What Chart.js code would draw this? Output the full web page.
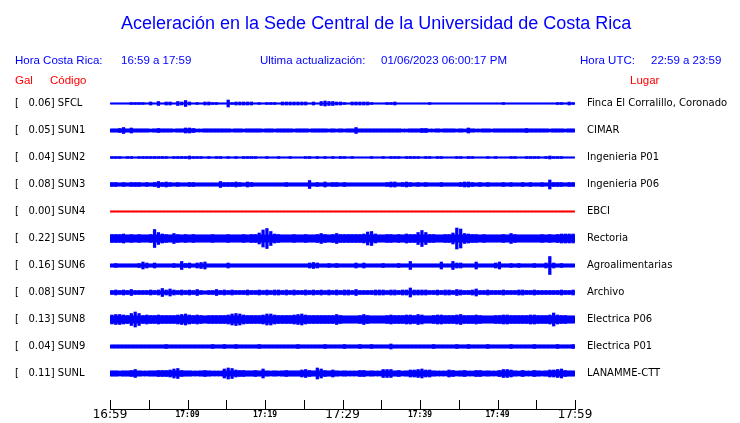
<!DOCTYPE html>
<html>
<head>
<meta charset="utf-8">
<script src="https://cdn.jsdelivr.net/npm/chart.js@4"></script>
<style>
  body { margin: 0; background: #fff; }
  #wrap { position: relative; width: 740px; height: 423px; }
  .t { position: absolute; white-space: pre; font-family: "Liberation Sans", Arial, sans-serif; font-size: 11.5px; line-height: 1; color: #0000ff; }
  .r { color: #ff0000; }
  #title { font-size: 18px; left: 121px; top: 14px; }
</style>
</head>
<body>
<div id="wrap">
  <canvas id="sismo" width="740" height="423"></canvas>
  <div class="t" id="title">Aceleración en la Sede Central de la Universidad de Costa Rica</div>
  <div class="t" style="left:15px;top:55px">Hora Costa Rica:</div>
  <div class="t" style="left:121px;top:55px">16:59 a 17:59</div>
  <div class="t" style="left:260px;top:55px">Ultima actualización:</div>
  <div class="t" style="left:381px;top:55px">01/06/2023 06:00:17 PM</div>
  <div class="t" style="left:580px;top:55px">Hora UTC:</div>
  <div class="t" style="left:651px;top:55px">22:59 a 23:59</div>
  <div class="t r" style="left:15px;top:75px">Gal</div>
  <div class="t r" style="left:50px;top:75px">Código</div>
  <div class="t r" style="left:630px;top:75px">Lugar</div>
</div>
<script>
const codes = ['SFCL', 'SUN1', 'SUN2', 'SUN3', 'SUN4', 'SUN5', 'SUN6', 'SUN7', 'SUN8', 'SUN9', 'SUNL'];
const peakGal = [0.06, 0.05, 0.04, 0.08, 0.00, 0.22, 0.16, 0.08, 0.13, 0.04, 0.11];
const places = ['Finca El Corralillo, Coronado', 'CIMAR', 'Ingenieria P01', 'Ingenieria P06', 'EBCI',
  'Rectoria', 'Agroalimentarias', 'Archivo', 'Electrica P06', 'Electrica P01', 'LANAMME-CTT'];
const timeLabels = ['16:59', '17:09', '17:19', '17:29', '17:39', '17:49', '17:59'];

// quiet background band of each trace (px)
const bandPx = [1, 3, 1, 3, 1, 7, 3, 3, 7, 3, 5];

// trace envelopes: band height (px, base 36) for every 30 s window of the hour
const sfcl = '1111122221 3141331436 3121332211 7233333121 2221333333 3131454433 2133333211 1223111111 1121111111 1111111111 1211111111 1111122132';
const sun1 = '3346353333 2343332335 5422333333 3233233332 3323333233 3233332323 2336333333 3333322333 4422323332 3253223323 3333333433 3332333233';
const sun2 = '2221221222 2222212222 3222121221 2121222211 2112112111 2212121212 2121111211 2122212222 1221221112 2122111212 1112211222 2123222111';
const sun3 = '4434344434 3464543433 4433333364 4454354333 3333343333 3834353443 4333333333 3455345434 3433343333 4554343433 3434334343 3439444344';
const sun4 = '1111111111 1111111111 1111111111 1111111111 1111111111 1111111111 1111111111 1111111111 1111111111 1111111111 1111111111 1111111111';
const sun5 = '8889787877 8ic987a878 7877778777 87778788bh ke98777877 8778a878a8 888889de97 788787988c gc887788bl ja98878777 787a877777 7878789999';
const sun6 = '3433333475 3533334384 5356733333 5333333333 3333333333 3565334343 3335353333 4333433833 3333373385 5333733335 7334343334 335i534333';
const sun7 = '4545464444 5458575454 5464344645 4544454454 5455454544 5454545454 5546444455 5455455955 5544545546 5445744544 4544455445 4444445445';
const sun8 = '9aa98cfc89 88988889ab 9898788888 9bcb988889 bb988889ab 98888888a8 77778a8777 789888998a 9778998889 a888987778 8998888899 8889d98877';
const sun9 = '3333333333 3333433333 3333334334 3343333343 3333333343 3333343333 4333433433 3353333333 3334333334 3343333433 3334333334 3333343334';
const sunl = '5545568544 5566679a65 5445654449 ba76655659 5454565557 865b965754 5444664544 8885645778 9775444764 5644664544 6887546446 5457789655';

const traces = [sfcl, sun1, sun2, sun3, sun4, sun5, sun6, sun7, sun8, sun9, sunl];

// y axis is in pixels (chart area runs 90..409), one row every 27 px
const rowY = i => 103.5 + 27 * i;
const env = s => s.replace(/ /g, '').split('').map(c => parseInt(c, 36));
const colorOf = r => codes[r] === 'SUN4' ? '#ff0000' : '#0000ff';

const datasets = [];
traces.forEach((s, r) => {
  const h = env(s);
  const xAt = i => (i + 0.5) * 60 / h.length;
  // continuous background band
  datasets.push({
    data: h.map((v, i) => ({ x: xAt(i), y: [rowY(r) - bandPx[r] / 2, rowY(r) + bandPx[r] / 2] })),
    backgroundColor: colorOf(r), borderWidth: 0, barThickness: 4.4, grouped: false
  });
  // bursts
  datasets.push({
    data: h.map((v, i) => ({ x: xAt(i), y: [rowY(r) - v / 2, rowY(r) + v / 2] })),
    backgroundColor: colorOf(r), borderWidth: 0, barThickness: 2.6, grouped: false
  });
});

const rowTicks = s => { s.ticks = codes.map((c, i) => ({ value: rowY(i) })); };
const rowFit = w => s => { s.width = w; s.paddingTop = 0; s.paddingBottom = 0; };

// short upward tick every 5 minutes
const tickMarks = {
  id: 'tickMarks',
  afterDraw(chart) {
    const xs = chart.scales.x, ctx = chart.ctx;
    ctx.save();
    ctx.strokeStyle = '#000';
    ctx.lineWidth = 1;
    for (let m = 0; m <= 60; m += 5) {
      const x = Math.round(xs.getPixelForValue(m)) + 0.5;
      ctx.beginPath();
      ctx.moveTo(x, xs.top - 9);
      ctx.lineTo(x, xs.top);
      ctx.stroke();
    }
    ctx.restore();
  }
};

new Chart(document.getElementById('sismo'), {
  type: 'bar',
  data: { datasets: datasets },
  plugins: [tickMarks],
  options: {
    responsive: false,
    animation: false,
    devicePixelRatio: 1,
    layout: { padding: { top: 90, left: 15, right: 0, bottom: 0 } },
    plugins: { legend: { display: false }, tooltip: { enabled: false } },
    scales: {
      x: {
        type: 'linear', min: 0, max: 60, offset: false,
        grid: { display: false, drawTicks: false, tickLength: 0 },
        border: { display: true, color: '#000', width: 1 },
        afterBuildTicks: s => { s.ticks = timeLabels.map((t, i) => ({ value: i * 10 })); },
        afterFit: s => { s.height = 14; },
        ticks: {
          autoSkip: false, maxRotation: 0, padding: 0, color: '#000',
          crossAlign: 'near',
          callback: (v, i) => timeLabels[i],
          font: c => c.index % 3 === 0
            ? { family: 'DejaVu Sans', size: 12, lineHeight: 1 }
            : { family: 'DejaVu Sans Mono', size: 8, weight: 'bold', lineHeight: 1.5 }
        }
      },
      y: {
        type: 'linear', position: 'left', min: 90, max: 409, reverse: true,
        grid: { display: false, drawTicks: false, tickLength: 0 }, border: { display: false },
        afterBuildTicks: rowTicks,
        afterFit: rowFit(95),
        ticks: {
          autoSkip: false, crossAlign: 'far', color: '#000',
          font: { family: 'DejaVu Sans', size: 10 },
          callback: (v, i) => '[   ' + peakGal[i].toFixed(2) + '] ' + codes[i]
        }
      },
      y2: {
        type: 'linear', position: 'right', min: 90, max: 409, reverse: true,
        grid: { display: false, drawTicks: false, tickLength: 0 }, border: { display: false },
        afterBuildTicks: rowTicks,
        afterFit: rowFit(165),
        ticks: {
          autoSkip: false, padding: 12, color: '#000',
          font: { family: 'DejaVu Sans', size: 10 },
          callback: (v, i) => places[i]
        }
      }
    }
  }
});
</script>
</body>
</html>
